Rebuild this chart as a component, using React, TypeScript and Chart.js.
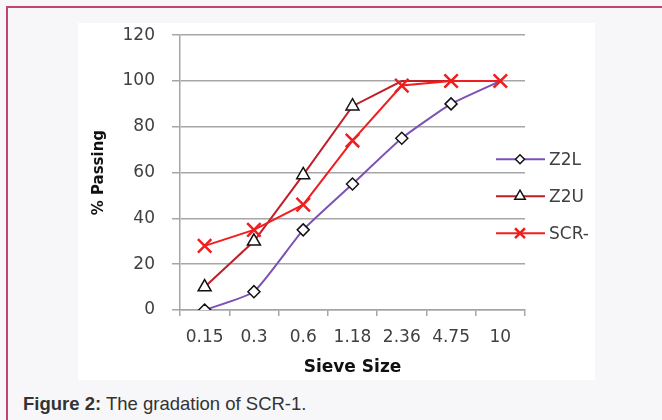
import React, { useEffect, useRef } from "react";
import { Chart, registerables } from "chart.js";
import { drawPoint } from "chart.js/helpers";

Chart.register(...registerables);

const sieveSizes = ["0.15", "0.3", "0.6", "1.18", "2.36", "4.75", "10"];
const z2l = [0, 8, 35, 55, 75, 90, 100];
const z2u = [10, 30, 59, 89, 100, 100, null];
const scr = [28, 35, 46, 74, 98, 100, 100];
const yTicks = [0, 20, 40, 60, 80, 100, 120];

const FONT = "'DejaVu Sans', 'Open Sans', sans-serif";
const GRID = "#a6a6a6";
const TEXT = "#404040";

const legendPlugin = {
  id: "sideLegend",
  afterDraw(chart: any) {
    const ctx = chart.ctx;
    const right = chart.chartArea.right;
    const top = chart.chartArea.top;
    const x0 = right - 29;
    const x1 = right + 20;
    const xm = right - 5;
    const ys = [top + 124, top + 161, top + 198];
    const legendRadius = [4.5, 6, 7];
    chart.data.datasets.forEach((ds: any, i: number) => {
      const y = ys[i];
      ctx.save();
      ctx.strokeStyle = ds.borderColor;
      ctx.lineWidth = 2;
      ctx.beginPath();
      ctx.moveTo(x0, y);
      ctx.lineTo(x1, y);
      ctx.stroke();
      ctx.fillStyle = ds.pointBackgroundColor;
      ctx.strokeStyle = ds.pointBorderColor;
      ctx.lineWidth = ds.pointBorderWidth;
      drawPoint(
        ctx,
        { pointStyle: ds.pointStyle, radius: legendRadius[i], rotation: 0, borderWidth: ds.pointBorderWidth } as any,
        xm,
        y
      );
      ctx.fillStyle = TEXT;
      ctx.font = `17px ${FONT}`;
      ctx.textAlign = "left";
      ctx.textBaseline = "middle";
      ctx.fillText(ds.label, x1 + 4, y + 1);
      ctx.restore();
    });
  },
};

export default function App() {
  const canvasRef = useRef<HTMLCanvasElement | null>(null);

  useEffect(() => {
    if (!canvasRef.current) return;
    const chart = new Chart(canvasRef.current, {
      type: "line",
      data: {
        labels: sieveSizes,
        datasets: [
          {
            label: "Z2L",
            data: z2l,
            borderColor: "#7d52b4",
            borderWidth: 2,
            tension: 0.15,
            pointStyle: "rectRot",
            pointRadius: [6, 6, 6, 6, 6, 6, 0],
            pointBackgroundColor: "#ffffff",
            pointBorderColor: "#111111",
            pointBorderWidth: 1.5,
            order: 2,
          },
          {
            label: "Z2U",
            data: z2u,
            borderColor: "#bf2027",
            borderWidth: 2,
            tension: 0,
            pointStyle: "triangle",
            pointRadius: [7.5, 7.5, 7.5, 7.5, 0, 0, 0],
            pointBackgroundColor: "#ffffff",
            pointBorderColor: "#111111",
            pointBorderWidth: 1.5,
            order: 1,
          },
          {
            label: "SCR-",
            data: scr,
            borderColor: "#f01e1e",
            borderWidth: 2,
            tension: 0,
            pointStyle: "crossRot",
            pointRadius: 9.5,
            pointBackgroundColor: "#f01e1e",
            pointBorderColor: "#f01e1e",
            pointBorderWidth: 2.5,
            order: 0,
          },
        ],
      },
      options: {
        animation: false,
        responsive: false,
        maintainAspectRatio: false,
        layout: { padding: { top: 10, right: 70, bottom: 0, left: 0 } },
        plugins: {
          legend: { display: false },
          tooltip: { enabled: false },
        },
        scales: {
          x: {
            type: "category",
            offset: true,
            grid: {
              offset: true,
              drawOnChartArea: true,
              color: (c: any) => (c.index === sieveSizes.length ? GRID : "rgba(0,0,0,0)"),
              tickColor: GRID,
              tickLength: 6,
              lineWidth: 1.5,
            },
            border: { display: true, color: GRID, width: 1.5 },
            ticks: {
              color: TEXT,
              font: { family: FONT, size: 17 },
              padding: 11,
              maxRotation: 0,
              autoSkip: false,
            },
            title: {
              display: true,
              text: "Sieve Size",
              color: "#111111",
              font: { family: FONT, size: 17, weight: "bold" },
              padding: { top: 2, bottom: 2 },
            },
            afterFit: (scale: any) => {
              scale.height = 70;
            },
          },
          y: {
            min: 0,
            max: 120,
            afterBuildTicks: (scale: any) => {
              scale.ticks = yTicks.map((v) => ({ value: v }));
            },
            grid: {
              color: GRID,
              tickColor: GRID,
              tickLength: 8,
              lineWidth: 1.5,
            },
            border: { display: true, color: GRID, width: 1.5 },
            ticks: {
              color: TEXT,
              font: { family: FONT, size: 17 },
              padding: 17,
            },
            title: {
              display: true,
              text: "% Passing",
              color: "#111111",
              font: { family: FONT, size: 15, weight: "bold" },
              padding: { top: 12, bottom: 12 },
            },
            afterFit: (scale: any) => {
              scale.width = 102;
            },
          },
        },
      },
      plugins: [legendPlugin],
    });
    return () => chart.destroy();
  }, []);

  return (
    <div
      style={{
        position: "absolute",
        left: 0,
        top: 0,
        width: 662,
        height: 420,
        background: "#f7f7f9",
        overflow: "hidden",
      }}
    >
      <div
        style={{
          position: "absolute",
          left: 6,
          top: 6,
          width: 720,
          height: 500,
          borderLeft: "2px solid #c4456b",
          borderTop: "2px solid #c4456b",
        }}
      />
      <div
        style={{
          position: "absolute",
          left: 78,
          top: 23,
          width: 517,
          height: 357,
          background: "#ffffff",
        }}
      />
      <canvas
        ref={canvasRef}
        width={517}
        height={372}
        style={{ display: "block", position: "absolute", left: 78, top: 8 }}
      />
      <div
        style={{
          position: "absolute",
          left: 23,
          top: 394,
          fontFamily: "'Liberation Sans', Arial, sans-serif",
          fontSize: 18.5,
          lineHeight: "20px",
          color: "#333333",
          whiteSpace: "nowrap",
        }}
      >
        <b>Figure 2:</b> The gradation of SCR-1.
      </div>
    </div>
  );
}
